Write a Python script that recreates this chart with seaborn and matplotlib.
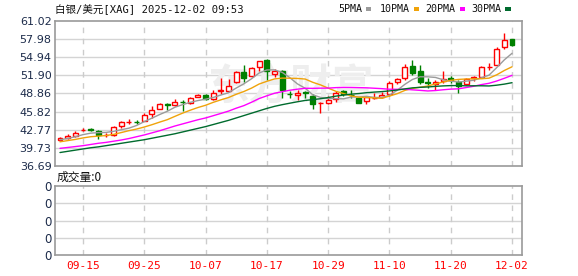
import numpy as np
import pandas as pd
import matplotlib
matplotlib.use("Agg")
import matplotlib.pyplot as plt
from matplotlib.patches import Rectangle
import seaborn as sns

# ---------------- data ----------------
title_text = "白银/美元[XAG] 2025-12-02 09:53"
volume_text = "成交量:0"
start_date = "2025-09-10"
end_date = "2025-12-02"

opens = [41.05, 41.31, 41.70, 42.70, 42.85, 42.48, 41.90, 41.92, 43.37, 44.05,
         44.10, 44.26, 45.37, 46.31, 47.05, 46.87, 47.45, 47.31, 48.26, 48.59,
         47.98, 49.25, 49.31, 50.76, 52.53, 51.76, 53.26, 54.48, 52.15, 52.65,
         48.75, 48.59, 49.10, 48.42, 47.25, 47.31, 47.87, 49.26, 48.60, 48.15,
         47.59, 48.10, 48.26, 48.70, 50.81, 51.40, 53.42, 52.59, 50.76, 50.48,
         50.93, 51.48, 50.81, 50.48, 51.50, 51.70, 53.30, 53.70, 56.59, 57.98]
highs = [41.53, 42.00, 42.60, 43.05, 43.10, 42.80, 42.25, 43.40, 44.30, 44.65,
         44.40, 45.50, 46.80, 47.30, 47.30, 47.90, 47.80, 48.30, 48.75, 48.80,
         49.50, 51.50, 51.30, 52.70, 53.70, 53.30, 54.37, 54.70, 52.90, 52.87,
         49.25, 49.50, 49.25, 48.70, 47.50, 48.50, 49.25, 49.37, 49.37, 48.30,
         48.40, 48.90, 49.10, 50.90, 51.50, 53.80, 54.40, 53.70, 51.50, 51.20,
         52.70, 51.87, 51.20, 51.50, 51.87, 53.50, 53.98, 56.60, 59.00, 57.98]
lows = [40.92, 41.20, 41.60, 42.55, 42.50, 41.30, 41.50, 41.80, 43.15, 43.70,
        43.75, 44.20, 44.80, 46.20, 46.10, 46.70, 46.00, 47.10, 48.20, 47.70,
        47.70, 48.70, 49.10, 50.65, 50.76, 51.60, 52.70, 51.20, 51.60, 48.03,
        48.05, 47.70, 48.05, 46.30, 45.65, 47.15, 47.50, 48.42, 48.15, 47.20,
        47.15, 47.85, 48.15, 48.42, 50.48, 51.10, 52.03, 50.37, 49.80, 49.50,
        50.65, 50.65, 48.87, 50.26, 50.90, 51.60, 52.87, 53.60, 56.37, 56.76]
closes = [41.37, 41.76, 42.31, 42.75, 42.80, 41.81, 41.95, 43.26, 44.09, 44.10,
          44.05, 45.20, 46.15, 47.09, 46.85, 47.48, 47.35, 48.09, 48.59, 47.98,
          48.92, 49.40, 50.04, 52.53, 51.53, 53.15, 54.26, 52.59, 52.59, 49.42,
          48.70, 48.98, 49.00, 47.03, 47.30, 47.76, 48.92, 48.81, 48.53, 47.31,
          48.26, 48.15, 48.53, 50.65, 51.31, 53.26, 52.31, 50.76, 50.60, 50.81,
          51.37, 51.04, 50.09, 51.31, 51.60, 53.37, 53.32, 56.37, 57.87, 57.04]

ma5 = [41.10, 41.30, 41.60, 41.95, 42.20, 42.29, 42.32, 42.51, 42.78, 43.04,
       43.49, 44.14, 44.72, 45.32, 45.87, 46.55, 46.98, 47.37, 47.67, 47.90,
       48.19, 48.60, 48.99, 49.77, 50.48, 51.33, 52.30, 52.81, 52.82, 52.40,
       51.51, 50.46, 49.74, 48.63, 48.20, 48.01, 48.00, 47.96, 48.26, 48.27,
       48.37, 48.21, 48.16, 48.58, 49.38, 50.38, 51.21, 51.66, 51.65, 51.55,
       51.17, 50.92, 50.78, 50.92, 51.08, 51.48, 51.94, 53.20, 54.51, 55.60]
ma10 = [40.75, 40.95, 41.15, 41.40, 41.60, 41.70, 41.80, 42.00, 42.30, 42.62,
        42.89, 43.23, 43.62, 44.05, 44.46, 45.02, 45.56, 46.05, 46.50, 46.88,
        47.37, 47.79, 48.18, 48.72, 49.19, 49.76, 50.45, 50.90, 51.30, 51.44,
        51.42, 51.38, 51.28, 50.73, 50.30, 49.76, 49.23, 48.85, 48.45, 48.23,
        48.19, 48.11, 48.06, 48.42, 48.82, 49.37, 49.71, 49.91, 50.11, 50.46,
        50.78, 51.06, 51.22, 51.29, 51.32, 51.33, 51.43, 51.99, 52.72, 53.34]
ma20 = [39.65, 39.80, 39.95, 40.10, 40.30, 40.50, 40.65, 40.85, 41.05, 41.30,
        41.60, 41.90, 42.25, 42.60, 43.00, 43.40, 43.75, 44.10, 44.45, 44.75,
        45.13, 45.51, 45.90, 46.39, 46.82, 47.39, 48.01, 48.47, 48.90, 49.16,
        49.40, 49.58, 49.73, 49.72, 49.75, 49.76, 49.84, 49.88, 49.87, 49.84,
        49.81, 49.74, 49.67, 49.57, 49.56, 49.57, 49.47, 49.38, 49.28, 49.35,
        49.48, 49.59, 49.64, 49.85, 50.07, 50.35, 50.57, 50.95, 51.41, 51.90]
ma30 = [38.95, 39.15, 39.35, 39.55, 39.75, 39.90, 40.10, 40.30, 40.50, 40.70,
        40.90, 41.10, 41.35, 41.60, 41.85, 42.10, 42.40, 42.70, 43.00, 43.30,
        43.65, 44.00, 44.35, 44.75, 45.15, 45.55, 45.95, 46.35, 46.70, 46.98,
        47.23, 47.47, 47.69, 47.83, 47.98, 48.18, 48.41, 48.60, 48.75, 48.85,
        48.99, 49.09, 49.17, 49.29, 49.44, 49.63, 49.80, 49.89, 49.95, 50.05,
        50.13, 50.18, 50.19, 50.14, 50.15, 50.15, 50.12, 50.25, 50.43, 50.67]

ma_names = ["5PMA", "10PMA", "20PMA", "30PMA"]
ma_colors = ["#9b9b9b", "#f0a30a", "#ff00ff", "#006b2e"]

price_ticks = [36.69, 39.73, 42.77, 45.82, 48.86, 51.90, 54.94, 57.98, 61.02]
price_tick_labels = ["36.69", "39.73", "42.77", "45.82", "48.86", "51.90", "54.94", "57.98", "61.02"]
date_tick_labels = ["09-15", "09-25", "10-07", "10-17", "10-29", "11-10", "11-20", "12-02"]
volume_tick_labels = ["0", "0", "0", "0", "0"]

# ---------------- build table ----------------
dates = pd.bdate_range(start_date, end_date).strftime("%m-%d")
df = pd.DataFrame({"date": dates, "open": opens, "high": highs, "low": lows,
                   "close": closes, "ma5": ma5, "ma10": ma10, "ma20": ma20, "ma30": ma30})
df["i"] = np.arange(len(df))
tick_pos = [int(df.index[df["date"] == d][0]) for d in date_tick_labels]

# ---------------- figure ----------------
sns.set_theme(style="white")
plt.rcParams["font.family"] = ["Noto Sans CJK SC", "DejaVu Sans"]
plt.rcParams["axes.unicode_minus"] = False

W, H = 578, 276
fig = plt.figure(figsize=(W / 100, H / 100), dpi=100)
fig.patch.set_facecolor("white")


def box(l, t, r, b):
    return [l / W, 1 - b / H, (r - l) / W, (b - t) / H]


ax = fig.add_axes(box(55, 21, 522, 166))
axv = fig.add_axes(box(55, 186, 522, 255))

up_col = "#ff0000"
dn_col = "#008000"
label_col = "#1c2b4a"
spine_col = "#9a9a9a"
grid_col = "#d4d4d4"

# candles
up = df[df["close"] >= df["open"]]
dn = df[df["close"] < df["open"]]
ax.vlines(up["i"], up["low"], up["high"], color=up_col, lw=1.0, zorder=3)
ax.vlines(dn["i"], dn["low"], dn["high"], color=dn_col, lw=1.0, zorder=3)
ax.bar(up["i"], (up["close"] - up["open"]).clip(lower=0.04), bottom=up["open"], width=0.64,
       facecolor="white", edgecolor=up_col, linewidth=1.0, zorder=4)
ax.bar(dn["i"], (dn["open"] - dn["close"]).clip(lower=0.04), bottom=dn["close"], width=0.64,
       facecolor=dn_col, edgecolor=dn_col, linewidth=1.0, zorder=4)

# moving averages
for col, c in zip(["ma5", "ma10", "ma20", "ma30"], ma_colors):
    sns.lineplot(data=df, x="i", y=col, ax=ax, color=c, lw=1.0, zorder=5, legend=False)

# watermark
ax.text(0.505, 0.55, "东方财富", transform=ax.transAxes, ha="center", va="center",
        fontsize=30, color="#eeeeee", fontweight="bold", zorder=1)

ax.set_xlim(-0.65, 60.3)
ax.set_ylim(36.69, 61.02)
ax.set_yticks(price_ticks)
ax.set_yticklabels(price_tick_labels, family="DejaVu Sans")
ax.set_xticks(tick_pos)
ax.set_xticklabels([])
ax.set_xlabel("")
ax.set_ylabel("")
ax.grid(False)
for y in price_ticks[1:-1]:
    ax.axhline(y, color=grid_col, lw=1.0, zorder=0.5)
for x in tick_pos:
    ax.axvline(x, color="#cccccc", lw=1.0, ls=(0, (4, 4)), zorder=0.5)
ax.tick_params(axis="both", length=0, pad=2.5, labelsize=8, colors=label_col)

# volume panel
axv.set_xlim(-0.65, 60.3)
axv.set_ylim(0, 1)
vt = [0, 0.25, 0.5, 0.75, 1.0]
axv.set_yticks(vt)
axv.set_yticklabels(volume_tick_labels, family="DejaVu Sans")
axv.set_xticks(tick_pos)
axv.set_xticklabels(date_tick_labels, family="DejaVu Sans Mono")
axv.set_xlabel("")
axv.set_ylabel("")
for y in vt[1:-1]:
    axv.axhline(y, color=grid_col, lw=1.0, zorder=0.5)
for x in tick_pos:
    axv.axvline(x, color="#cccccc", lw=1.0, ls=(0, (4, 4)), zorder=0.5)
axv.tick_params(axis="y", length=0, pad=2.5, labelsize=8.5, colors=label_col)
axv.tick_params(axis="x", length=0, pad=4, labelsize=8, colors=up_col)

for a in (ax, axv):
    for s in a.spines.values():
        s.set_color(spine_col)
        s.set_linewidth(1.2)
        s.set_visible(True)

# title, legend, volume label
fig.text(55 / W, 1 - 10 / H, title_text, ha="left", va="center", fontsize=7.6,
         color="#111111", family=["DejaVu Sans Mono", "Noto Sans CJK SC"])
fig.text(57 / W, 1 - 177 / H, volume_text, ha="left", va="center", fontsize=8.5, color="#111111")

leg_text_x = [338, 380, 425.5, 471.5]
leg_sq_x = [365.5, 413.5, 459.5, 505]
for name, c, tx, sx in zip(ma_names, ma_colors, leg_text_x, leg_sq_x):
    fig.text(tx / W, 1 - 9.5 / H, name, ha="left", va="center", fontsize=7.2,
             color="#111111", family="DejaVu Sans Mono")
    fig.patches.append(Rectangle((sx / W, 1 - 10.5 / H), 5.5 / W, 4 / H,
                                 transform=fig.transFigure, facecolor=c, edgecolor="none"))

fig.savefig("out.png", dpi=100, facecolor="white")
